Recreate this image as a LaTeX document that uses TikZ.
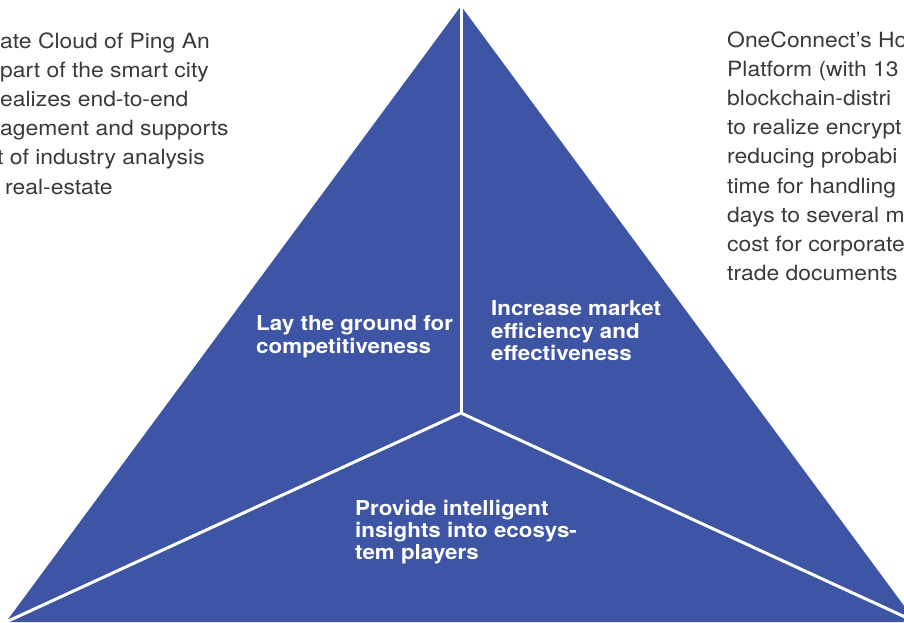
\documentclass[tikz,border=0pt]{standalone}
\usepackage{fontspec}
\setmainfont{TeX Gyre Heros}[FakeStretch=1.09]
\usetikzlibrary{positioning}
\definecolor{pyrblue}{RGB}{61,85,164}
\definecolor{pyrgrey}{RGB}{58,58,58}
\tikzset{
  sidenote/.style={align=left, inner sep=0pt, text=pyrgrey, font=\fontsize{21}{29.1}\selectfont},
  aim/.style={align=left, inner sep=0pt, text=white, font=\fontsize{20.5}{22.3}\selectfont\bfseries},
  divider/.style={white, line width=3pt}
}

\begin{document}
\begin{tikzpicture}[x=1pt,y=-1pt]
		\useasboundingbox (0,0) rectangle (904,622);
		\clip (0,0) rectangle (904,622);
		\coordinate (apex) at (461,6);
		\coordinate (left) at (6,622);
		\coordinate (right) at (916,622);
		\coordinate (hub) at (461,413);
		\fill [pyrblue] (apex) -- (left) -- (right) -- cycle;
		\draw [divider] (hub) -- (apex);
		\draw [divider] (hub) -- (left);
		\draw [divider] (hub) -- (right);
		
		% text cut off by the page edge, as in the source
		\node [sidenote, anchor=north west] (cloud) at (0,32.7) {ate Cloud of Ping An\\part of the smart city\\ealizes end-to-end\\agement and supports\\\hspace{-3pt}t of industry analysis\\\hspace{5pt}real-estate};
		\node [sidenote, anchor=north west] (oneconnect) at (727,31.7) {OneConnect’s Ho\\Platform (with 13\\blockchain-distri\\to realize encrypt\\reducing probabi\\time for handling\\days to several m\\cost for corporate\\trade documents};
		
		\node [aim, anchor=north west] (ground) at (256,315.7) {Lay the ground for\\competitiveness};
		\node [aim, anchor=north west] (market) at (491,300.7) {Increase market\\efficiency and\\effectiveness};
		\node [aim, anchor=north west] (insight) at (355,499.7) {Provide intelligent\\insights into ecosys-\\tem players};
\end{tikzpicture}
\end{document}
